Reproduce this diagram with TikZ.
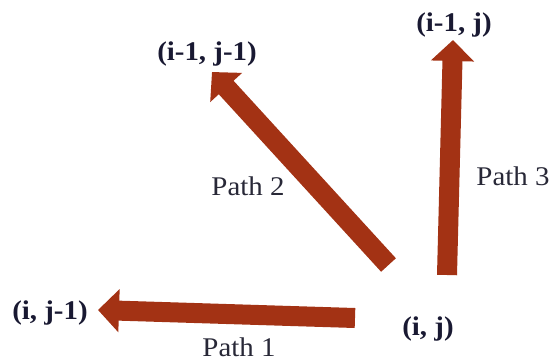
\documentclass[tikz,border=0pt]{standalone}
\usepackage{fontspec}
\setmainfont{Liberation Serif}[FakeStretch=1.07]
\usetikzlibrary{arrows.meta}
\definecolor{arrowred}{RGB}{163,50,20}
\definecolor{boldtext}{RGB}{25,25,50}
\definecolor{pathtext}{RGB}{40,40,55}
\begin{document}
\begin{tikzpicture}[x=1pt,y=-1pt,
  bigarrow/.style={draw=arrowred,line width=20pt,line cap=butt,
    -{Triangle[length=21pt,width=42pt,fill=arrowred,color=arrowred]}},
  celllabel/.style={inner sep=0pt,text=boldtext,font=\fontsize{27}{30}\selectfont\bfseries},
  pathlabel/.style={inner sep=0pt,text=pathtext,font=\fontsize{27}{30}\selectfont}]
\useasboundingbox (0,0) rectangle (549,362);
% cell labels
\node[celllabel] (nw) at (207,54) {(i-1, j-1)};
\node[celllabel] (n) at (454,25) {(i-1, j)};
\node[celllabel] (w) at (50,313) {(i, j-1)};
\node[celllabel] (c) at (428,329) {(i, j)};
% path labels
\node[pathlabel] (p1) at (239,347) {Path 1};
\node[pathlabel] (p2) at (248,186) {Path 2};
\node[pathlabel] (p3) at (513,176) {Path 3};
% arrow ends
\coordinate (t1) at (355,318);
\coordinate (h1) at (98,310);
\coordinate (t2) at (388.5,265);
\coordinate (h2) at (212,72);
\coordinate (t3) at (447,275);
\coordinate (h3) at (453,40);
\draw[bigarrow] (t1) -- (h1);
\draw[bigarrow] (t2) -- (h2);
\draw[bigarrow] (t3) -- (h3);
\end{tikzpicture}
\end{document}
